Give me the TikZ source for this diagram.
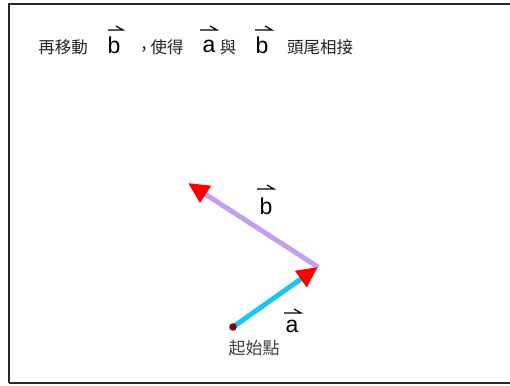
\documentclass[tikz,border=0pt]{standalone}
\usepackage{fontspec}
\setmainfont{Liberation Sans}
\newfontfamily\cjk{Noto Sans CJK TC}
\usetikzlibrary{arrows.meta}
\definecolor{txt}{HTML}{222222}
\definecolor{lav}{HTML}{C4A0EC}
\definecolor{cyanv}{HTML}{1CC6EC}
\definecolor{dotred}{HTML}{7A0A0A}
\tikzset{
  zh/.style={font=\cjk\fontsize{16.5}{16.5}\selectfont, text=txt, inner sep=0pt},
  lt/.style={font=\fontsize{23}{23}\selectfont, text=black, inner sep=0pt},
  vecbar/.style={line width=1.2pt, black},
  vecline/.style={line width=5pt, -{Triangle[length=21pt,width=19pt,color=red]}},
}
\begin{document}
\begin{tikzpicture}[x=1pt,y=-1pt]
\useasboundingbox (0,0) rectangle (510,385);
\fill[white] (0,0) rectangle (510,385);
\draw[line width=1.6pt, black!85] (9,383) -- (9,4) -- (515,4);
\draw[line width=1.6pt, black!85] (9,383) -- (515,383);

% title
\node[zh] (t1) at (63,47) {再移動};
\node[lt] (tb1) at (114,45) {b};
\node[zh] (tc) at (144,51) {，};
\node[zh] (t2) at (167,47) {使得};
\node[lt] (ta) at (209,46) {a};
\node[zh] (t3) at (228,47) {與};
\node[lt] (tb2) at (262,45) {b};
\node[zh] (t4) at (320,47) {頭尾相接};
\draw[vecbar] (108,30) -- (123,30) -- (116,26);
\draw[vecbar] (200,30) -- (217,30) -- (210,26);
\draw[vecbar] (255,30) -- (272,30) -- (265,26);

% vectors
\coordinate (O) at (233,327);
\coordinate (A) at (318,267);
\coordinate (B) at (188,183);
\draw[vecline, lav] (A) -- (B);
\draw[vecline, cyanv] (O) -- (A);
\fill[dotred] (O) circle (3.8);

\node[lt] (lb) at (266,206) {b};
\draw[vecbar] (257,189) -- (274,189) -- (267,185);
\node[lt] (la) at (292,326) {a};
\draw[vecbar] (284,313) -- (301,313) -- (294,309);
\node[zh, font=\cjk\fontsize{17}{17}\selectfont, text=black!75] (start) at (254,348) {起始點};
\end{tikzpicture}
\end{document}
